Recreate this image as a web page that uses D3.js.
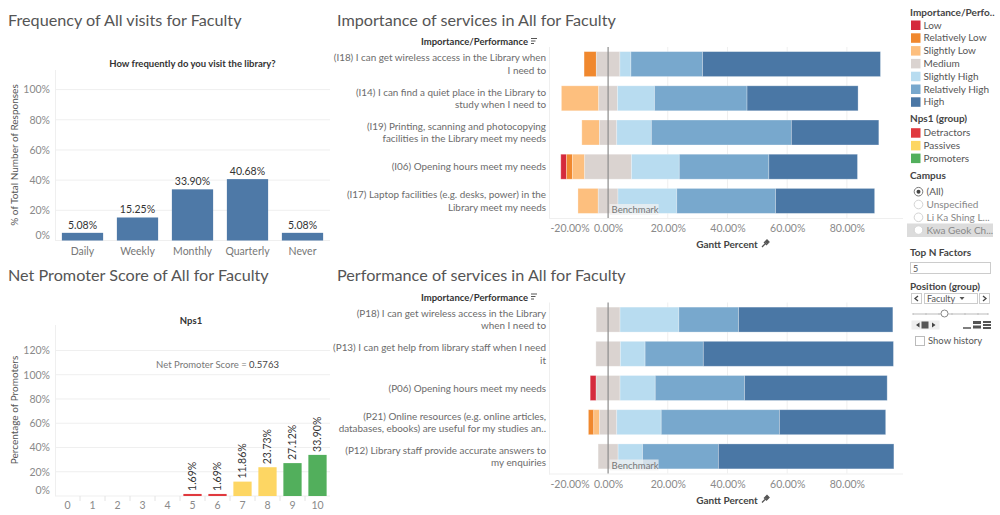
<!DOCTYPE html>
<html><head><meta charset="utf-8">
<script src="https://cdn.jsdelivr.net/npm/d3@7"></script>
<style>
body{margin:0;background:#fff;}
svg{font-family:Lato,"Open Sans",sans-serif;}
</style></head><body>
<svg id="c" width="1000" height="515"></svg>
<script>
// ---------- data ----------
const freqCategories = ["Daily","Weekly","Monthly","Quarterly","Never"];
const freqValues = [5.08,15.25,33.90,40.68,5.08];
const freqTicks = [0,20,40,60,80,100];

const npsScores = ["0","1","2","3","4","5","6","7","8","9","10"];
const npsValues = [0,0,0,0,0,1.69,1.69,11.86,23.73,27.12,33.90];
const npsScoreGroups = ["Detractors","Detractors","Detractors","Detractors","Detractors","Detractors","Detractors","Passives","Passives","Promoters","Promoters"];
const npsTicks = [0,20,40,60,80,100,120];
const npsScoreValue = "0.5763";

const levels = ["Low","Relatively Low","Slightly Low","Medium","Slightly High","Relatively High","High"];
const levelColors = ["#d52a3c","#f0882e","#fdbf7e","#dad3d0","#b8dcf0","#78a8cd","#4a77a5"];
const npsGroups = ["Detractors","Passives","Promoters"];
const npsColors = ["#e0393e","#fdd663","#52af5c"];

const importanceLabels = [
  "(I18) I can get wireless access in the Library when\nI need to",
  "(I14) I can find a quiet place in the Library to\nstudy when I need to",
  "(I19) Printing, scanning and photocopying\nfacilities in the Library meet my needs",
  "(I06) Opening hours meet my needs",
  "(I17) Laptop facilities (e.g. desks, power) in the\nLibrary meet my needs"
];
// Low, Relatively Low, Slightly Low, Medium, Slightly High, Relatively High, High (%)
const importanceValues = [
  [0,4.1,0,7.9,3.7,24.0,59.6],
  [0,0,12.5,6.3,12.4,31.0,37.2],
  [0,0,5.9,5.8,11.6,46.9,29.3],
  [1.9,2.0,4.1,15.7,16.0,30.0,29.7],
  [0,0,6.8,6.6,19.7,33.1,33.2]
];
const performanceLabels = [
  "(P18) I can get wireless access in the Library\nwhen I need to",
  "(P13) I can get help from library staff when I need\nit",
  "(P06) Opening hours meet my needs",
  "(P21) Online resources (e.g. online articles,\ndatabases, ebooks) are useful for my studies an..",
  "(P12) Library staff provide accurate answers to\nmy enquiries"
];
const performanceValues = [
  [0,0,0,8.0,19.7,20.0,51.7],
  [0,0,0,8.2,8.3,19.5,63.7],
  [2.0,0,0,8.0,11.8,29.9,47.8],
  [0,1.8,1.9,5.8,14.9,39.6,35.6],
  [0,0,0,6.7,8.2,25.4,58.8]
];
const ganttTicks = [-20,0,20,40,60,80];

const campusOptions = ["(All)","Unspecified","Li Ka Shing L...","Kwa Geok Ch..."];

// ---------- drawing ----------
const svg = d3.select("#c");
const TITLE = "#555", TICK = "#8a8a8a", LABEL = "#6b6b6b", DARK = "#333", GRID = "#efefef";

function title(x, y, t){
  svg.append("text").attr("x",x).attr("y",y).attr("font-size",16.2).attr("fill",TITLE).text(t);
}

// ===== Frequency chart =====
title(8, 25.5, "Frequency of All visits for Faculty");
{
  const g = svg.append("g");
  const x = d3.scaleBand().domain(freqCategories).range([55,330]).paddingInner(0.25).paddingOuter(0.125);
  const y = d3.scaleLinear().domain([0,113]).range([240.5,70]);
  g.append("text").attr("x",192.5).attr("y",67).attr("text-anchor","middle")
    .attr("font-size",9.5).attr("font-weight",700).attr("fill",DARK).text("How frequently do you visit the library?");
  g.selectAll(".gl").data(freqTicks).join("line")
    .attr("x1",55).attr("x2",330).attr("y1",d=>y(d)).attr("y2",d=>y(d)).attr("stroke",GRID);
  g.append("line").attr("x1",55.5).attr("x2",55.5).attr("y1",70).attr("y2",241).attr("stroke",GRID);
  const ya = g.append("g").attr("transform","translate(55,0)")
    .call(d3.axisLeft(y).tickValues(freqTicks).tickFormat(d=>d+"%").tickSize(0).tickPadding(5));
  ya.select(".domain").remove();
  ya.selectAll("text").attr("font-size",10.5).attr("fill",TICK).attr("font-family","Lato")
    .attr("dy", d=> d===0 ? "-0.2em" : "0.32em");
  g.append("text").attr("transform","translate(18,155) rotate(-90)").attr("text-anchor","middle")
    .attr("font-size",10).attr("fill","#555").text("% of Total Number of Responses");
  g.selectAll(".bar").data(freqValues).join("rect")
    .attr("x",(d,i)=>x(freqCategories[i])).attr("width",x.bandwidth())
    .attr("y",d=>y(d)).attr("height",d=>y(0)-y(d)).attr("fill","#4e79a7");
  g.selectAll(".bl").data(freqValues).join("text")
    .attr("x",(d,i)=>x(freqCategories[i])+x.bandwidth()/2).attr("y",d=>y(d)-4)
    .attr("text-anchor","middle").attr("font-size",10.5).attr("fill",DARK).text(d=>d.toFixed(2)+"%");
  const xa = g.append("g").attr("transform","translate(0,241)")
    .call(d3.axisBottom(x).tickSize(0).tickPadding(7));
  xa.select(".domain").remove();
  xa.selectAll("text").attr("font-size",10.5).attr("fill","#777").attr("font-family","Lato");
}

// ===== NPS chart =====
title(8, 280.5, "Net Promoter Score of All for Faculty");
{
  const g = svg.append("g");
  const x = d3.scaleBand().domain(npsScores).range([55,330]).paddingInner(0.27).paddingOuter(0.135);
  const y = d3.scaleLinear().domain([0,141]).range([496,325]);
  const col = d3.scaleOrdinal().domain(npsGroups).range(npsColors);
  g.append("text").attr("x",191).attr("y",323.5).attr("text-anchor","middle")
    .attr("font-size",9.5).attr("font-weight",700).attr("fill",DARK).text("Nps1");
  g.selectAll(".gl").data(npsTicks).join("line")
    .attr("x1",55).attr("x2",330).attr("y1",d=>y(d)).attr("y2",d=>y(d)).attr("stroke",GRID);
  g.append("line").attr("x1",55.5).attr("x2",55.5).attr("y1",325).attr("y2",496).attr("stroke",GRID);
  const ya = g.append("g").attr("transform","translate(55,0)")
    .call(d3.axisLeft(y).tickValues(npsTicks).tickFormat(d=>d+"%").tickSize(0).tickPadding(5));
  ya.select(".domain").remove();
  ya.selectAll("text").attr("font-size",10.5).attr("fill",TICK).attr("font-family","Lato")
    .attr("dy", d=> d===0 ? "-0.25em" : "0.32em");
  g.append("text").attr("transform","translate(18,410) rotate(-90)").attr("text-anchor","middle")
    .attr("font-size",10).attr("fill","#555").text("Percentage of Promoters");
  // band separators
  g.selectAll(".sep").data(npsScores.slice(1)).join("line")
    .attr("x1",d=>x(d)-x.step()*x.paddingInner()/2).attr("x2",d=>x(d)-x.step()*x.paddingInner()/2)
    .attr("y1",496).attr("y2",501).attr("stroke","#e4e4e4");
  g.append("text").attr("x",217.5).attr("y",367.5).attr("text-anchor","middle")
    .attr("font-size",9.5).attr("fill","#777")
    .call(t=>{t.append("tspan").text("Net Promoter Score = "); t.append("tspan").attr("fill","#444").text(npsScoreValue);});
  const data = npsValues.map((v,i)=>({s:npsScores[i],v,grp:npsScoreGroups[i]})).filter(d=>d.v>0);
  g.selectAll(".bar").data(data).join("rect")
    .attr("x",d=>x(d.s)).attr("width",x.bandwidth())
    .attr("y",d=>y(d.v)).attr("height",d=>y(0)-y(d.v)).attr("fill",d=>col(d.grp));
  g.selectAll(".bl").data(data).join("text")
    .attr("transform",d=>`translate(${x(d.s)+x.bandwidth()/2+3.5},${y(d.v)-3}) rotate(-90)`)
    .attr("font-size",10.5).attr("fill",DARK).text(d=>d.v.toFixed(2)+"%");
  const xa = g.append("g").attr("transform","translate(0,497)")
    .call(d3.axisBottom(x).tickSize(0).tickPadding(5));
  xa.select(".domain").remove();
  xa.selectAll("text").attr("font-size",10.5).attr("fill",TICK).attr("font-family","Lato");
}

// ===== Diverging charts =====
function diverging(opt){
  const g = svg.append("g");
  const paneL = 549, paneR = 903;
  const x = d3.scaleLinear().domain([-19.8,98.8]).range([paneL,paneR]);
  const y = d3.scaleBand().domain(opt.labels).range([opt.top,opt.bottom]).paddingInner(0.27).paddingOuter(0.135);
  title(337, opt.titleY, opt.title);
  // header
  g.append("text").attr("x",528).attr("y",opt.top-2).attr("text-anchor","end")
    .attr("font-size",9.5).attr("font-weight",700).attr("fill",DARK).text("Importance/Performance");
  [6,4.5,3].forEach((w,i)=>g.append("line").attr("x1",531).attr("x2",531+w)
     .attr("y1",opt.top-8.5+i*2.5).attr("y2",opt.top-8.5+i*2.5).attr("stroke","#555").attr("stroke-width",1));
  // grid
  g.selectAll(".vg").data(ganttTicks.filter(t=>t>0)).join("line")
    .attr("x1",d=>x(d)).attr("x2",d=>x(d)).attr("y1",opt.top).attr("y2",opt.bottom).attr("stroke",GRID);
  g.append("line").attr("x1",paneL+0.5).attr("x2",paneL+0.5).attr("y1",opt.top).attr("y2",opt.bottom+1).attr("stroke",GRID);
  g.append("line").attr("x1",paneL).attr("x2",paneR).attr("y1",opt.bottom+0.5).attr("y2",opt.bottom+0.5).attr("stroke",GRID);
  // row labels
  opt.labels.forEach(lab=>{
    const lines = lab.split("\n");
    const cy = y(lab)+y.bandwidth()/2;
    lines.forEach((ln,k)=>{
      g.append("text").attr("x",546).attr("y",cy+(k-(lines.length-1)/2)*12.4+3.5)
        .attr("text-anchor","end").attr("font-size",9.9).attr("fill",LABEL).text(ln);
    });
  });
  // segments
  const segs = [];
  opt.values.forEach((row,ri)=>{
    let s = -(row[0]+row[1]+row[2]+row[3]/2);
    row.forEach((v,li)=>{ if(v>0) segs.push({lab:opt.labels[ri],li,x0:s,x1:s+v}); s+=v; });
  });
  g.selectAll(".seg").data(segs).join("rect")
    .attr("x",d=>x(d.x0)).attr("width",d=>x(d.x1)-x(d.x0))
    .attr("y",d=>y(d.lab)).attr("height",y.bandwidth())
    .attr("fill",d=>levelColors[d.li]).attr("stroke","rgba(255,255,255,0.35)").attr("stroke-width",0.8);
  // benchmark
  g.append("line").attr("x1",x(0)).attr("x2",x(0)).attr("y1",opt.top).attr("y2",opt.bottom)
    .attr("stroke","#8c8c8c").attr("stroke-width",1.2);
  g.append("rect").attr("x",x(0)+1.5).attr("y",opt.bottom-14).attr("width",49).attr("height",11)
    .attr("fill","rgba(242,242,242,0.75)");
  g.append("text").attr("x",x(0)+3.5).attr("y",opt.bottom-5).attr("font-size",9.5).attr("fill","#777").text("Benchmark");
  // axis
  const xa = g.append("g").attr("transform",`translate(0,${opt.bottom})`)
    .call(d3.axisBottom(x).tickValues(ganttTicks).tickFormat(d=>d.toFixed(2)+"%").tickSize(0).tickPadding(7));
  xa.select(".domain").remove();
  xa.selectAll("text").attr("font-size",10.5).attr("fill",TICK).attr("font-family","Lato")
    .attr("text-anchor",d=>d===-20?"start":"middle").attr("x",d=>d===-20?1.5:0);
  g.append("text").attr("x",727).attr("y",opt.bottom+30).attr("text-anchor","middle")
    .attr("font-size",10).attr("font-weight",700).attr("fill","#444").text("Gantt Percent");
  // pin icon
  const px = 765, py = opt.bottom+26;
  g.append("path").attr("d",`M${px-3},${py+3} L${px},${py} M${px-1},${py-2} L${px+2},${py+1} M${px},${py-2} L${px+2},${py-4} L${px+4},${py-2} L${px+2},${py}`)
    .attr("stroke","#555").attr("stroke-width",1.3).attr("fill","#555");
}
diverging({title:"Importance of services in All for Faculty",titleY:25.5,labels:importanceLabels,values:importanceValues,top:47,bottom:218});
diverging({title:"Performance of services in All for Faculty",titleY:280.5,labels:performanceLabels,values:performanceValues,top:302.5,bottom:473.5});

// ===== Right panel =====
{
  const g = svg.append("g").attr("font-size",10);
  const hdr=(y,t)=>g.append("text").attr("x",910).attr("y",y).attr("font-weight",700).attr("fill","#444").text(t);
  hdr(16,"Importance/Perfo..");
  levels.forEach((l,i)=>{
    const yy = 25+i*12.8;
    g.append("rect").attr("x",911).attr("y",yy-4.5).attr("width",9.5).attr("height",9.5).attr("fill",levelColors[i]);
    g.append("text").attr("x",923.5).attr("y",yy+3.5).attr("fill","#555").text(l);
  });
  hdr(122,"Nps1 (group)");
  npsGroups.forEach((l,i)=>{
    const yy = 132.7+i*12.7;
    g.append("rect").attr("x",911).attr("y",yy-4.5).attr("width",9.5).attr("height",9.5).attr("fill",npsColors[i]);
    g.append("text").attr("x",923.5).attr("y",yy+3.5).attr("fill","#555").text(l);
  });
  hdr(179,"Campus");
  g.append("rect").attr("x",907).attr("y",223.5).attr("width",86).attr("height",13.5).attr("fill","#dcdcdc");
  campusOptions.forEach((c,i)=>{
    const yy = 191.7+i*12.8;
    g.append("circle").attr("cx",918.5).attr("cy",yy).attr("r",4.3).attr("fill","#fff").attr("stroke",i===0?"#777":"#d4d4d4");
    if(i===0) g.append("circle").attr("cx",918.5).attr("cy",yy).attr("r",2).attr("fill","#444");
    g.append("text").attr("x",926.5).attr("y",yy+3.5).attr("fill",i===0?"#555":"#888").text(c);
  });
  hdr(256,"Top N Factors");
  g.append("rect").attr("x",910.5).attr("y",262.5).attr("width",80).attr("height",11).attr("fill","#fff").attr("stroke","#ccc");
  g.append("text").attr("x",913).attr("y",271.5).attr("font-size",9).attr("fill","#555").text("5");
  hdr(290,"Position (group)");
  g.append("rect").attr("x",911.5).attr("y",293.5).attr("width",10).attr("height",10).attr("fill","#fff").attr("stroke","#ccc");
  g.append("path").attr("d","M918,296 L915,298.5 L918,301").attr("stroke","#444").attr("fill","none").attr("stroke-width",1.3);
  g.append("rect").attr("x",924.5).attr("y",293.5).attr("width",53).attr("height",10).attr("fill","#fff").attr("stroke","#ccc");
  g.append("text").attr("x",927).attr("y",301.5).attr("font-size",9).attr("fill","#555").text("Faculty");
  g.append("path").attr("d","M959.5,297 L964.5,297 L962,300 Z").attr("fill","#555");
  g.append("rect").attr("x",979.5).attr("y",293.5).attr("width",10).attr("height",10).attr("fill","#fff").attr("stroke","#ccc");
  g.append("path").attr("d","M983,296 L986,298.5 L983,301").attr("stroke","#444").attr("fill","none").attr("stroke-width",1.3);
  // slider
  g.append("line").attr("x1",913).attr("x2",988).attr("y1",314).attr("y2",314).attr("stroke","#ddd").attr("stroke-width",2);
  [913,926,939,952,965,978,988].forEach(v=>g.append("circle").attr("cx",v).attr("cy",314).attr("r",0.8).attr("fill","#bbb"));
  g.append("circle").attr("cx",944.5).attr("cy",313.5).attr("r",3.5).attr("fill","#fff").attr("stroke","#888");
  // playback
  g.append("rect").attr("x",911.5).attr("y",320.5).attr("width",28).attr("height",9).attr("fill","#eee");
  g.append("path").attr("d","M916,325 L919.5,322.5 L919.5,327.5 Z").attr("fill","#444");
  g.append("rect").attr("x",921.5).attr("y",321.5).attr("width",7).attr("height",7).attr("fill","#555");
  g.append("path").attr("d","M932,322.5 L935.5,325 L932,327.5 Z").attr("fill","#444");
  g.append("line").attr("x1",963).attr("x2",971).attr("y1",328).attr("y2",328).attr("stroke","#555").attr("stroke-width",1.5);
  g.append("rect").attr("x",973).attr("y",321).attr("width",8).attr("height",3).attr("fill","#555");
  g.append("rect").attr("x",973).attr("y",325.5).attr("width",8).attr("height",3).attr("fill","#555");
  [321,324,327].forEach(v=>g.append("rect").attr("x",983).attr("y",v).attr("width",8).attr("height",2).attr("fill","#555"));
  g.append("rect").attr("x",915.5).attr("y",336.5).attr("width",9).attr("height",9).attr("fill","#fff").attr("stroke","#bbb");
  g.append("text").attr("x",928).attr("y",344).attr("font-size",9.5).attr("fill","#555").text("Show history");
}
</script>
</body></html>
